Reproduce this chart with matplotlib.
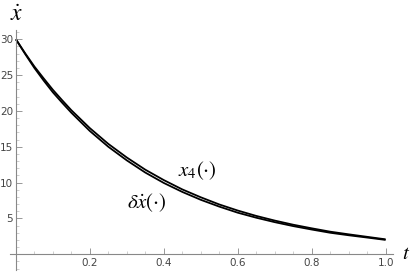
import matplotlib
matplotlib.use("Agg")
import matplotlib.pyplot as plt
from matplotlib.ticker import MultipleLocator

plt.rcParams['mathtext.fontset'] = 'stix'

# values
t = [0.0, 0.025, 0.05, 0.075, 0.1, 0.125, 0.15, 0.2, 0.25, 0.3, 0.35, 0.4, 0.45, 0.5,
     0.55, 0.6, 0.65, 0.7, 0.75, 0.8, 0.85, 0.9, 0.95, 1.0]
x4 = [30.0, 28.05, 26.2, 24.55, 22.95, 21.5, 20.1, 17.6, 15.4, 13.5, 11.8, 10.35, 9.05, 7.95,
      6.95, 6.1, 5.35, 4.7, 4.12, 3.62, 3.15, 2.78, 2.43, 2.08]
dxdot = [30.0, 27.95, 26.0, 24.25, 22.6, 21.15, 19.75, 17.2, 15.0, 13.1, 11.4, 9.95, 8.7, 7.6,
         6.65, 5.8, 5.1, 4.48, 3.93, 3.45, 3.0, 2.65, 2.33, 2.0]
xticks = [0.2, 0.4, 0.6, 0.8, 1.0]
yticks = [5, 10, 15, 20, 25, 30]

fig = plt.figure(figsize=(4.12, 2.74), dpi=100)
ax = fig.add_axes([10/412, 4/274, 383/412, 240/274])

ax.plot(t, x4, color='black', lw=1.3, solid_capstyle='butt')
ax.plot(t, dxdot, color='black', lw=1.3, solid_capstyle='butt')

ax.set_xlim(-0.016, 1.02)
ax.set_ylim(-2.2, 31.3)

gray = '#888888'
for s in ['top', 'right']:
    ax.spines[s].set_visible(False)
ax.spines['left'].set_position(('data', 0))
ax.spines['bottom'].set_position(('data', 0))
for s in ['left', 'bottom']:
    ax.spines[s].set_color(gray)
    ax.spines[s].set_linewidth(0.8)

ax.set_xticks(xticks)
ax.set_xticklabels([f'{v:.1f}' for v in xticks])
ax.set_yticks(yticks)
ax.set_yticklabels([str(v) for v in yticks])
ax.xaxis.set_minor_locator(MultipleLocator(0.05))
ax.yaxis.set_minor_locator(MultipleLocator(1))
ax.tick_params(which='major', direction='in', length=4, width=0.6, color=gray,
               labelsize=7.5, labelcolor='#444444', pad=3)
ax.tick_params(which='minor', direction='in', length=2, width=0.5, color='#bbbbbb')
ax.tick_params(axis='y', pad=2)

fig.text(17/412, 1 - 2/274, r'$\dot{x}$', fontsize=17, ha='center', va='top')
ax.text(1.045, 0.2, r'$t$', fontsize=15, ha='left', va='center')
ax.text(0.49, 11.6, r'$x_4\left(\cdot\right)$', fontsize=15, ha='center', va='center')
ax.text(0.355, 7.2, r'$\delta\dot{x}\left(\cdot\right)$', fontsize=15, ha='center', va='center')

fig.savefig('out.png', dpi=100)
